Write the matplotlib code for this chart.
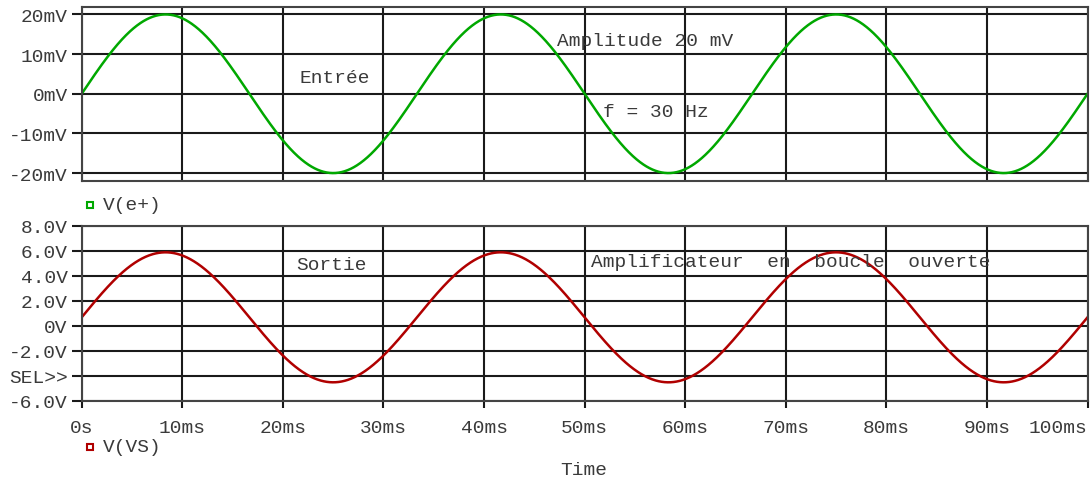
import numpy as np
import matplotlib
matplotlib.use("Agg")
import matplotlib.pyplot as plt
from matplotlib.lines import Line2D

plt.rcParams['font.family'] = ['Liberation Mono', 'DejaVu Sans Mono']

# simulation settings (values stated on the plot)
freq_hz = 30.0
amp_in_mv = 20.0
out_offset_v = 0.67
out_amp_v = 5.2

time_ticks_ms = [0, 10, 20, 30, 40, 50, 60, 70, 80, 90, 100]
time_labels = ['0s', '10ms', '20ms', '30ms', '40ms', '50ms', '60ms', '70ms', '80ms', '90ms', '100ms']
in_ticks = [-20, -10, 0, 10, 20]
in_labels = ['-20mV', '-10mV', '0mV', '10mV', '20mV']
out_ticks = [-6, -4, -2, 0, 2, 4, 6, 8]
out_labels = ['-6.0V', 'SEL>>', '-2.0V', '0V', '2.0V', '4.0V', '6.0V', '8.0V']

t_ms = np.linspace(0, 100, 2001)
v_in = amp_in_mv * np.sin(2 * np.pi * freq_hz * t_ms / 1000)
v_out = out_offset_v + out_amp_v * np.sin(2 * np.pi * freq_hz * t_ms / 1000)

GREEN = '#00a800'
RED = '#b00000'
TXT = '#3a3a3a'
FS = 14

fig = plt.figure(figsize=(10.91, 4.81), dpi=100)
ax1 = fig.add_axes([0.0749, 0.6216, 0.9219, 0.3628])
ax2 = fig.add_axes([0.0749, 0.1649, 0.9219, 0.3638])


def style_axes(ax):
    for s in ax.spines.values():
        s.set_color('#444444')
        s.set_linewidth(1.5)
    ax.grid(True, color='#1a1a1a', linewidth=1.5)
    ax.set_axisbelow(True)
    ax.set_xlim(0, 100)
    ax.set_xticks(time_ticks_ms)
    ax.tick_params(axis='y', direction='out', length=7, width=1.5,
                   color='#1a1a1a', labelsize=FS, labelcolor=TXT, pad=3)
    ax.tick_params(axis='x', direction='out', length=5, width=1.5,
                   color='#1a1a1a', labelsize=FS, labelcolor=TXT, pad=8)


style_axes(ax1)
ax1.plot(t_ms, v_in, color=GREEN, lw=1.8)
ax1.set_ylim(-22, 22)
ax1.set_yticks(in_ticks)
ax1.set_yticklabels(in_labels)
ax1.tick_params(axis='x', length=0, labelbottom=False)

style_axes(ax2)
ax2.plot(t_ms, v_out, color=RED, lw=1.8)
ax2.set_ylim(-6, 8)
ax2.set_yticks(out_ticks)
ax2.set_yticklabels(out_labels)
ax2.set_xticklabels(time_labels)
# last label sits inside the right edge
ax2.get_xticklabels()[-1].set_horizontalalignment('right')

# annotations
ax1.text(21.7, 4.2, 'Entrée', fontsize=FS, color=TXT, va='center')
ax1.text(47.3, 13.4, 'Amplitude 20 mV', fontsize=FS, color=TXT, va='center')
ax1.text(51.8, -4.5, 'f = 30 Hz', fontsize=FS, color=TXT, va='center')
ax2.text(21.3, 4.86, 'Sortie', fontsize=FS, color=TXT, va='center')
ax2.text(50.6, 5.12, 'Amplificateur  en  boucle  ouverte', fontsize=FS, color=TXT, va='center')

# trace legends under each plot
for y_px, name, col in [(206, 'V(e+)', GREEN), (448, 'V(VS)', RED)]:
    yf = 1 - y_px / 481
    fig.add_artist(Line2D([90 / 1091], [yf], marker='s', markersize=5, mfc='none',
                          mec=col, mew=1.5, transform=fig.transFigure))
    fig.text(103 / 1091, yf, name, fontsize=FS, color=TXT, va='center')

fig.text(584 / 1091, 1 - 471 / 481, 'Time', fontsize=FS, color=TXT, ha='center', va='center')

fig.savefig('out.png', dpi=100)
